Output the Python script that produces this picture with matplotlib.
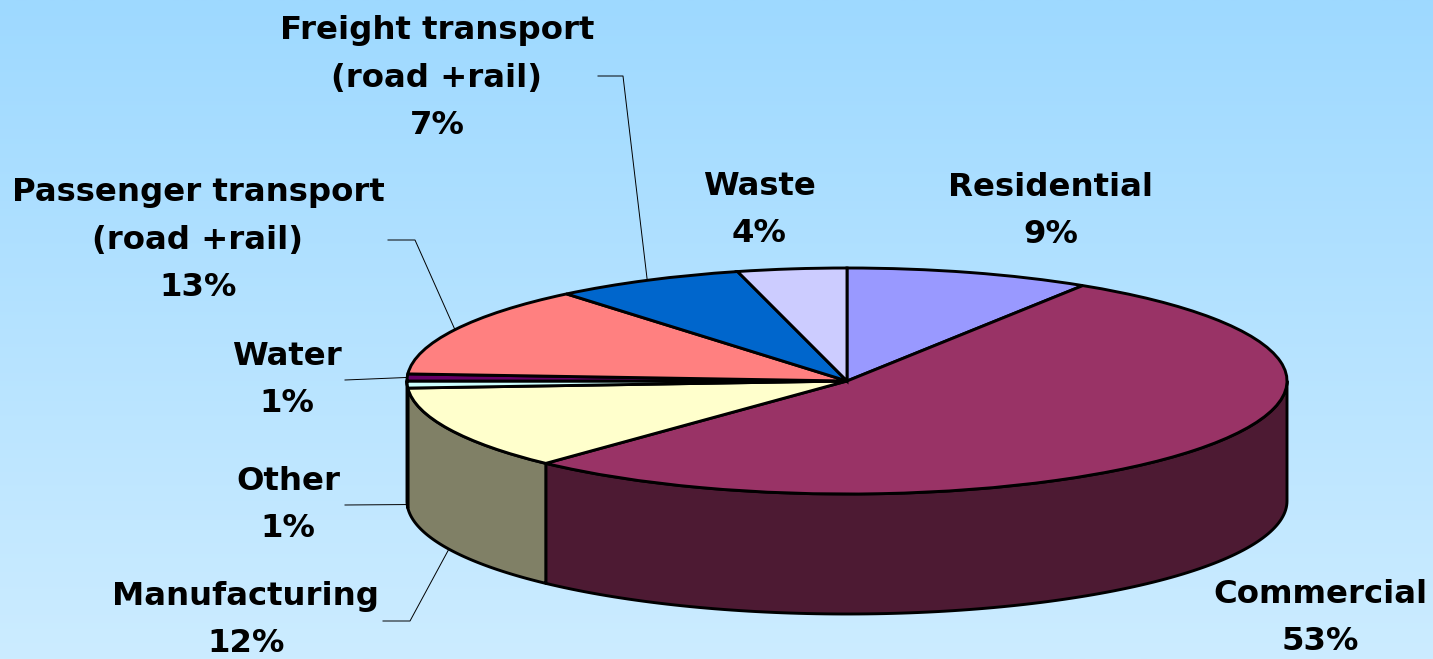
import numpy as np
import matplotlib
matplotlib.use("Agg")
import matplotlib.pyplot as plt
from matplotlib.patches import Polygon
from matplotlib.transforms import Affine2D

W, H = 1433, 659

sectors = ["Residential", "Commercial", "Manufacturing", "Other", "Water",
           "Passenger transport\n(road +rail)", "Freight transport\n(road +rail)", "Waste"]
shares = [9, 53, 12, 1, 1, 13, 7, 4]
top_colors = ["#9999FF", "#993366", "#FFFFCC", "#CCFFFF",
              "#660066", "#FF8080", "#0066CC", "#CCCCFF"]
side_colors = ["#4D4D80", "#4D1A33", "#808066", "#668080",
               "#330033", "#804040", "#003366", "#666680"]

# centre of each label block, in pixels
label_xy = [(1051, 211), (1320, 618), (246, 620), (288, 505),
            (287, 380), (198, 240), (437, 78), (759, 210)]
# leader lines: (start x, start y, elbow x or None, rim it attaches to)
leaders = {2: (383, 621, 410, "bottom"),
           3: (345, 505, None, "bottom"),
           4: (345, 380, None, "top"),
           5: (388, 240, 415, "top"),
           6: (598, 76, 623, "top")}

# pie geometry (pixels)
CX, CY, RX, RY = 847, 381, 440, 113
DEPTH = 120 / RY

fig = plt.figure(figsize=(W / 100, H / 100), dpi=100)
ax = fig.add_axes([0, 0, 1, 1])

# sky-blue vertical gradient
top = np.array([158, 217, 255]) / 255
bottom = np.array([204, 236, 255]) / 255
f = np.linspace(0, 1, 256)[:, None, None]
grad = top * (1 - f) + bottom * f
ax.imshow(grad, extent=(0, W, H, 0), aspect="auto", zorder=0)

wedges, _ = ax.pie(shares, colors=top_colors, startangle=90, counterclock=False,
                   wedgeprops=dict(edgecolor="black", linewidth=2.1))
ell = Affine2D().scale(RX, -RY).translate(CX, CY) + ax.transData
for w in wedges:
    w.set_transform(ell)
    w.set_zorder(3)

# front walls of the disc
for w, sc in zip(wedges, side_colors):
    t1, t2 = sorted((w.theta1, w.theta2))
    for k in (-1, 0, 1):
        lo, hi = max(t1, -180 + 360 * k), min(t2, 360 * k)
        if hi <= lo:
            continue
        t = np.radians(np.linspace(lo, hi, 120))
        xs = np.concatenate([np.cos(t), np.cos(t[::-1])])
        ys = np.concatenate([np.sin(t), np.sin(t[::-1]) - DEPTH])
        ax.add_patch(Polygon(np.column_stack([xs, ys]), closed=True, facecolor=sc,
                             edgecolor="black", linewidth=2.1, joinstyle="round",
                             transform=ell, zorder=2))

# labels and leader lines
for i, (name, s) in enumerate(zip(sectors, shares)):
    lx, ly = label_xy[i]
    ax.text(lx, ly, f"{name}\n{s}%", ha="center", va="center", multialignment="center",
            fontsize=23.3, fontweight="bold", family="DejaVu Sans", linespacing=1.68,
            zorder=5)
    if i in leaders:
        sx, sy, ex, rim = leaders[i]
        w = wedges[i]
        mid = np.radians((w.theta1 + w.theta2) / 2)
        u, v = np.cos(mid), np.sin(mid)
        if rim == "bottom":
            v -= DEPTH
        px, py = ell.transform((u, v))
        px, py = ax.transData.inverted().transform((px, py))
        xs, ys = [sx], [sy]
        if ex is not None:
            xs.append(ex)
            ys.append(sy)
        xs.append(px)
        ys.append(py)
        ax.plot(xs, ys, color="black", linewidth=0.7, zorder=1)

ax.set_aspect("auto")
ax.set_xlim(0, W)
ax.set_ylim(H, 0)
ax.axis("off")

fig.savefig("out.png", dpi=100)
